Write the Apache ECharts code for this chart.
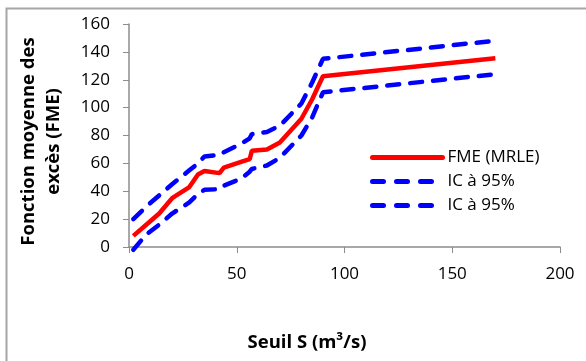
<!DOCTYPE html>
<html>
<head>
<meta charset="utf-8">
<script src="https://cdn.jsdelivr.net/npm/echarts@6/dist/echarts.min.js"></script>
<style>
  html, body { margin: 0; padding: 0; background: #fff; }
  #chart { width: 586px; height: 361px; }
</style>
</head>
<body>
<div id="chart"></div>
<script>
// seuil S (m3/s)
const seuils = [2, 8, 14, 20, 28, 32, 35, 42, 44, 52, 56, 57, 64, 70, 80, 85, 90, 170]
// FME (MRLE)
const fme = [8, 16, 24, 35, 43, 52, 54.5, 53, 57, 61, 63, 69, 70, 75, 92, 106, 122.5, 135.5]
// bornes de l'intervalle de confiance
const icHaut = [20, 29, 37, 45, 55, 60, 65, 66, 68, 74, 78, 81, 82.5, 87, 103, 118, 135, 148]
const icBas = [-2, 9, 16, 24, 32, 38, 41, 41.5, 44, 49, 54, 56, 58.5, 64, 80, 93, 111, 124]

const font = '"Open Sans", "Noto Sans", sans-serif'

const pairs = (ys) => seuils.map((x, i) => [x, ys[i]])

const chart = echarts.init(document.getElementById('chart'))

const dashed = { color: '#0000ff', width: 4.5, type: [12, 11], cap: 'round' }
const legendDash = { type: [11, 13] }

chart.setOption({
  animation: false,
  textStyle: { fontFamily: font },
  grid: { left: 129, right: 26, top: 24, bottom: 114 },
  graphic: [
    {
      type: 'polyline',
      shape: { points: [[6.5, 361], [6.5, 8.5], [586, 8.5]] },
      style: { stroke: '#a6a6a6', lineWidth: 2, fill: null },
    },
  ],
  legend: {
    left: 365,
    top: 144,
    orient: 'vertical',
    itemWidth: 70,
    itemHeight: 18,
    itemGap: 7,
    itemStyle: { opacity: 0 },
    lineStyle: { width: 5, cap: 'round' },
    textStyle: { fontFamily: font, fontSize: 17, color: '#000' },
    data: [
      { name: 'FME (MRLE)' },
      { name: 'IC à 95%', lineStyle: legendDash },
      { name: 'IC à 95% ', lineStyle: legendDash },
    ],
  },
  xAxis: {
    type: 'value',
    min: 0,
    max: 200,
    interval: 50,
    name: 'Seuil S (m³/s)',
    nameLocation: 'middle',
    nameGap: 86,
    nameTextStyle: {
      fontFamily: font, fontSize: 18.5, fontWeight: 'bold', color: '#000',
      padding: [0, 75, 0, 0],
    },
    axisLine: { lineStyle: { color: '#8c8c8c', width: 1.5 } },
    axisTick: { show: true, length: 6, lineStyle: { color: '#8c8c8c' } },
    axisLabel: { fontSize: 17, color: '#000', margin: 19 },
    splitLine: { show: false },
  },
  yAxis: {
    type: 'value',
    min: 0,
    max: 160,
    interval: 20,
    name: 'Fonction moyenne des\nexcès (FME)',
    nameLocation: 'middle',
    nameGap: 63,
    nameTextStyle: {
      fontFamily: font, fontSize: 18.5, fontWeight: 'bold', color: '#000', lineHeight: 25,
      padding: [0, 12, 0, 0],
    },
    axisLine: { show: true, lineStyle: { color: '#8c8c8c', width: 1.5 } },
    axisTick: { show: true, length: 6, lineStyle: { color: '#8c8c8c' } },
    axisLabel: { fontSize: 17, color: '#000', margin: 19 },
    splitLine: { show: false },
  },
  series: [
    {
      name: 'FME (MRLE)',
      type: 'line',
      data: pairs(fme),
      symbol: 'none',
      clip: false,
      z: 3,
      lineStyle: { color: '#ff0000', width: 4.5 },
      itemStyle: { color: '#ff0000' },
    },
    {
      name: 'IC à 95%',
      type: 'line',
      data: pairs(icHaut),
      symbol: 'none',
      clip: false,
      lineStyle: dashed,
      itemStyle: { color: '#0000ff' },
    },
    {
      name: 'IC à 95% ',
      type: 'line',
      data: pairs(icBas),
      symbol: 'none',
      clip: false,
      lineStyle: dashed,
      itemStyle: { color: '#0000ff' },
    },
  ],
})
</script>
</body>
</html>
